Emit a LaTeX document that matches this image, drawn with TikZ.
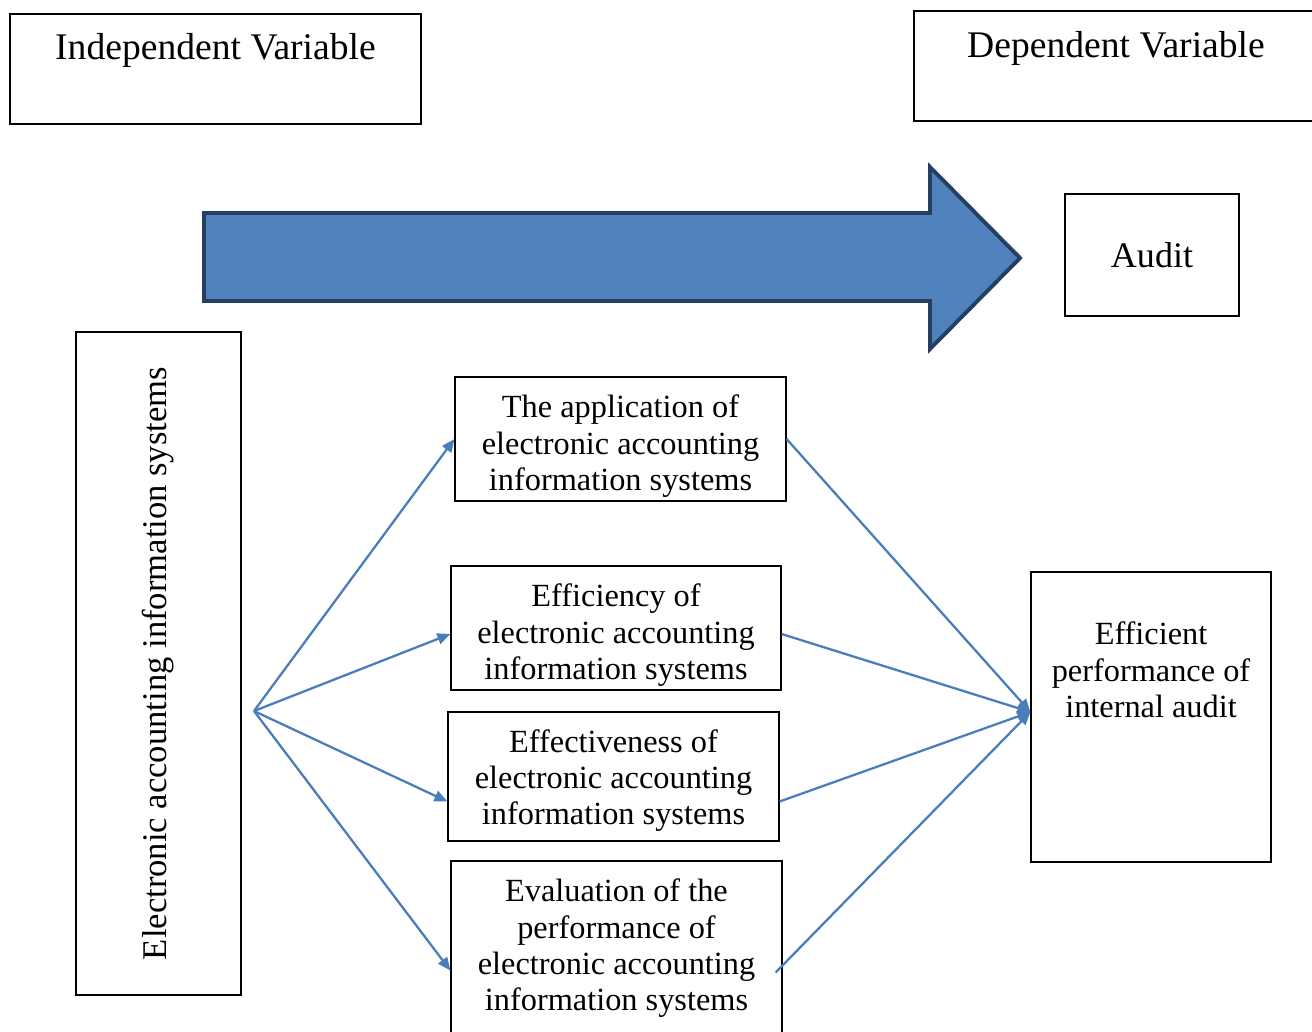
\documentclass[tikz,border=0pt]{standalone}
\usepackage{fontspec}
\setmainfont{Liberation Serif}
\usetikzlibrary{arrows.meta}
\usetikzlibrary{positioning}

\definecolor{linkblue}{HTML}{4A7EBB}
\definecolor{arrowfill}{HTML}{4F81BD}
\definecolor{arrowedge}{HTML}{243F60}

\newcommand{\dimgap}[1]{\rule{0pt}{#1}}

\begin{document}
\begin{tikzpicture}[
    box/.style={draw, line width=0.7pt, align=center, inner sep=0pt, font=\fontsize{18.4}{20.7}\selectfont},
    headbox/.style={draw, line width=0.7pt, inner sep=0pt, text height=0.92cm, text depth=1.28cm, font=\fontsize{21.4}{24}\selectfont},
    link/.style={draw=linkblue, line width=1.3pt, -{Triangle[length=2.6mm, width=2.2mm]}}
]
\useasboundingbox (0,0) rectangle (26.24,-20.64);

% --- Variable headers ---
\node[headbox, minimum width=8.22cm] (indep) at (4.31,-1.38) {Independent Variable};
\node[headbox, minimum width=8.08cm] (dep) at (22.32,-1.32) {Dependent Variable};

% --- Big arrow ---
\draw[fill=arrowfill, draw=arrowedge, line width=2.2pt] (4.08,-4.26) -- (18.6,-4.26) -- (18.6,-3.34) -- (20.4,-5.16) -- (18.6,-6.98) -- (18.6,-6.02) -- (4.08,-6.02) -- cycle;

\node[box, minimum width=3.48cm, minimum height=2.44cm, font=\fontsize{20.5}{24}\selectfont] (audit) at (23.04,-5.10) {Audit};

% --- Independent side ---
\node[box, rotate=90, minimum width=13.26cm, minimum height=3.3cm, font=\fontsize{19.7}{22}\selectfont] (eais) at (3.17,-13.27) {Electronic accounting information systems};

% --- Dimensions ---
\node[box, minimum width=6.62cm, minimum height=2.48cm] (app) at (12.41,-8.78) {\dimgap{0.74cm}The application of\\electronic accounting\\information systems};
\node[box, minimum width=6.6cm, minimum height=2.48cm] (effic) at (12.32,-12.56) {\dimgap{0.74cm}Efficiency of\\electronic accounting\\information systems};
\node[box, minimum width=6.62cm, minimum height=2.58cm] (effect) at (12.27,-15.53) {\dimgap{0.62cm}Effectiveness of\\electronic accounting\\information systems};
\node[box, minimum width=6.62cm, minimum height=3.5cm] (evalu) at (12.33,-18.97) {Evaluation of the\\performance of\\electronic accounting\\information systems};

% --- Dependent side ---
\node[draw, line width=0.7pt, inner sep=0pt, font=\fontsize{18.4}{20.7}\selectfont] (perf) at (23.02,-14.34) {\parbox[c][5.8cm][t]{4.8cm}{\centering\vspace*{1.0cm}Efficient\\performance of\\internal audit}};

\coordinate (src) at (5.08,-14.22);
\coordinate (dst) at ([yshift=0.1cm]perf.west);

% --- Connectors ---
\foreach \n/\s in {app/0, effic/-0.12, effect/-0.5, evalu/-0.44}
    \draw[link] (src) -- ([yshift=\s cm]\n.west);

\foreach \n/\s/\x in {app/0/0, effic/-0.12/0, effect/-0.5/0, evalu/-0.48/-0.14}
    \draw[link] ([xshift=\x cm, yshift=\s cm]\n.east) -- (dst);

\end{tikzpicture}
\end{document}
